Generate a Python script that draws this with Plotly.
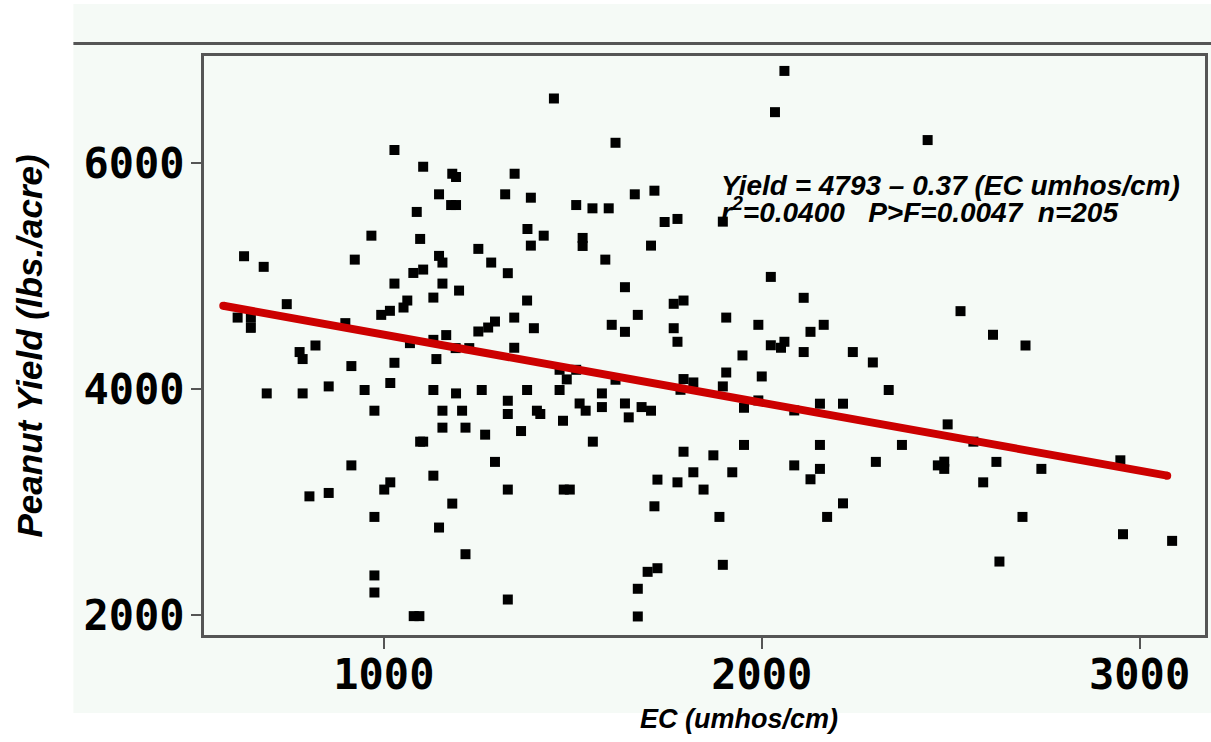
import plotly.graph_objects as go

# ---------------- data ----------------
ec_umhos = [
    1028, 1104, 1181, 1191, 1146, 1087, 1178, 1191, 967, 1096,
    1250, 630, 682, 923, 1146, 1155, 1078, 1104, 1028, 1155,
    1199, 743, 1062, 1131, 1052, 1016, 993, 613, 648, 648,
    898, 1250, 1165, 1131, 1069, 1190, 1226, 819, 777, 785,
    914, 1028, 1139, 690, 785, 854, 949, 1017, 1131, 1191,
    1259, 975, 1155, 1207, 1155, 1216, 1096, 1104, 914, 1131,
    1017, 1001, 854, 803, 1181, 975, 1146, 1216, 975, 975,
    1079, 1094,
    1450, 1613, 1346, 1321, 1389, 1509, 1552, 1595, 1664, 1716,
    1743, 1777, 1897, 1380, 1423, 1389, 1526, 1526, 1707, 1284,
    1328, 1586, 1638, 1379, 1345, 1294, 1276, 1397, 1767, 1793,
    1672, 1603, 1638, 1767, 1777, 1906, 1345,
    1949, 1906, 1897, 1953, 1953, 1465, 1509, 1484, 1613, 1793,
    1819, 1785, 1379, 1465, 1328, 1328, 1405, 1414, 1474, 1518,
    1534, 1577, 1577, 1638, 1648, 1682, 1707, 1268, 1363, 1553,
    1294, 1328, 1476, 1492, 1724, 1777, 1793, 1819, 1846, 1872,
    1922, 1716, 1888, 1698, 1724, 1672, 1897, 1328, 1672,
    2060, 2035, 2439, 2024, 2111, 2526, 1991, 2164, 2129, 2024,
    2051, 2060, 2111, 2241, 2294, 2000, 2336, 1991, 2086, 2154,
    2215, 2492, 2560, 2154, 2371, 2086, 2154, 2129, 2302, 2466,
    2483, 2483, 2586, 2215, 2173,
    2612, 2698, 2621, 2740, 2949, 2690, 2956, 3086, 2629,
]

yield_lbs = [
    6118, 5970, 5908, 5879, 5726, 5570, 5631, 5631, 5360, 5331,
    5243, 5178, 5084, 5148, 5181, 5122, 5030, 5060, 4936, 4936,
    4874, 4754, 4786, 4812, 4724, 4695, 4659, 4635, 4633, 4544,
    4586, 4512, 4480, 4438, 4409, 4365, 4365, 4388, 4330, 4268,
    4206, 4235, 4268, 3964, 3964, 4026, 3994, 4056, 3994, 3964,
    3994, 3811, 3811, 3811, 3661, 3661, 3537, 3537, 3327, 3236,
    3177, 3113, 3083, 3053, 2989, 2871, 2777, 2541, 2353, 2202,
    1993, 1993,
    6574, 6182, 5908, 5726, 5696, 5631, 5602, 5602, 5726, 5758,
    5481, 5508, 5484, 5419, 5360, 5272, 5340, 5269, 5272, 5122,
    5028, 5148, 4904, 4786, 4635, 4600, 4547, 4541, 4757, 4786,
    4659, 4571, 4509, 4541, 4421, 4635, 4368,
    4300, 4149, 4026, 3837, 3508, 4173, 4173, 4088, 4085, 4091,
    4061, 3996, 3994, 3994, 3899, 3782, 3811, 3782, 3722, 3875,
    3811, 3964, 3843, 3875, 3752, 3843, 3811, 3599, 3631, 3537,
    3358, 3113, 3113, 3113, 3201, 3177, 3448, 3266, 3113, 3416,
    3266, 2965, 2871, 2385, 2417, 2235, 2447, 2140, 1990,
    6818, 6453, 6206, 4995, 4810, 4692, 4571, 4571, 4509, 4390,
    4368, 4421, 4330, 4330, 4238, 4114, 3994, 3902, 3813, 3873,
    3873, 3690, 3537, 3508, 3508, 3327, 3296, 3204, 3358, 3327,
    3360, 3296, 3177, 2991, 2871,
    4483, 4388, 3358, 3296, 3372, 2871, 2718, 2659, 2476,
]

# fitted line as drawn in the picture (end points)
fit_ec = [575, 3073]
fit_yield = [4740, 3236]

x_ticks = [1000, 2000, 3000]
y_ticks = [2000, 4000, 6000]

eq_line1 = "Yield = 4793 \u2013 0.37 (EC umhos/cm)"
eq_line2 = "r<sup>2</sup>=0.0400&nbsp;&nbsp;&nbsp;P>F=0.0047&nbsp;&nbsp;n=205"
x_title = "EC (umhos/cm)"
y_title = "Peanut Yield (lbs./acre)"

# ---------------- layout geometry (pixels) ----------------
W, H = 1211, 742
ML, MR, MT, MB = 204, 3, 56, 107
PW = W - ML - MR
PH = H - MT - MB
BG = "#f5faf6"
FRAME = "#555555"


def px_x(p):
    return (p - ML) / PW


def px_y(p):
    return (H - MB - p) / PH


fig = go.Figure()

fig.add_trace(go.Scatter(
    x=ec_umhos, y=yield_lbs, mode="markers",
    marker=dict(symbol="square", size=10, color="black", line=dict(width=0)),
    showlegend=False, hoverinfo="x+y",
))

fig.add_trace(go.Scatter(
    x=fit_ec, y=fit_yield, mode="lines+markers",
    line=dict(color="#cc0000", width=8),
    marker=dict(symbol="circle", size=8, color="#cc0000", line=dict(width=0)),
    showlegend=False, hoverinfo="skip",
))

tick_font = dict(family="DejaVu Sans Mono", size=42, color="black", weight="bold")
title_font = dict(family="Liberation Sans, Arial", color="black", weight="bold", style="italic")

fig.update_xaxes(
    range=[524, 3173], tickvals=x_ticks, ticktext=[str(v) for v in x_ticks],
    ticks="outside", ticklen=11, tickwidth=2, tickcolor=FRAME,
    showline=True, linecolor=FRAME, linewidth=3, mirror=True,
    showgrid=False, zeroline=False, tickfont=tick_font,
    ticklabelstandoff=-10,
)
fig.update_yaxes(
    range=[1826, 6950], tickvals=y_ticks, ticktext=[str(v) for v in y_ticks],
    ticks="outside", ticklen=10, tickwidth=2, tickcolor=FRAME,
    showline=True, linecolor=FRAME, linewidth=3, mirror=True,
    showgrid=False, zeroline=False, tickfont=tick_font,
    ticklabelstandoff=-2,
)

shapes = [
    dict(type="rect", xref="paper", yref="paper",
         x0=px_x(73), x1=px_x(1215), y0=px_y(713), y1=px_y(4),
         fillcolor=BG, line=dict(width=0), layer="below"),
    dict(type="line", xref="paper", yref="paper",
         x0=px_x(73), x1=px_x(1215), y0=px_y(43.5), y1=px_y(43.5),
         line=dict(color=FRAME, width=3)),
]

annotations = [
    dict(text=eq_line1, xref="paper", yref="paper", x=px_x(721), y=px_y(185),
         xanchor="left", yanchor="middle", showarrow=False,
         font=dict(size=28, **title_font)),
    dict(text=eq_line2, xref="paper", yref="paper", x=px_x(721), y=px_y(210),
         xanchor="left", yanchor="middle", showarrow=False,
         font=dict(size=28, **title_font)),
    dict(text=x_title, xref="paper", yref="paper", x=px_x(741), y=px_y(719),
         xanchor="center", yanchor="middle", showarrow=False,
         font=dict(size=27, **title_font)),
    dict(text=y_title, xref="paper", yref="paper", x=px_x(29), y=px_y(346),
         xanchor="center", yanchor="middle", showarrow=False, textangle=-90,
         font=dict(size=35, **title_font)),
]

fig.update_layout(
    width=W, height=H,
    margin=dict(l=ML, r=MR, t=MT, b=MB, pad=0),
    paper_bgcolor="white", plot_bgcolor=BG,
    shapes=shapes, annotations=annotations,
    showlegend=False,
)

fig.write_html(
    "out.html",
    config={"displayModeBar": False},
    post_script="document.body.style.margin='0px';document.body.style.padding='0px';",
)
